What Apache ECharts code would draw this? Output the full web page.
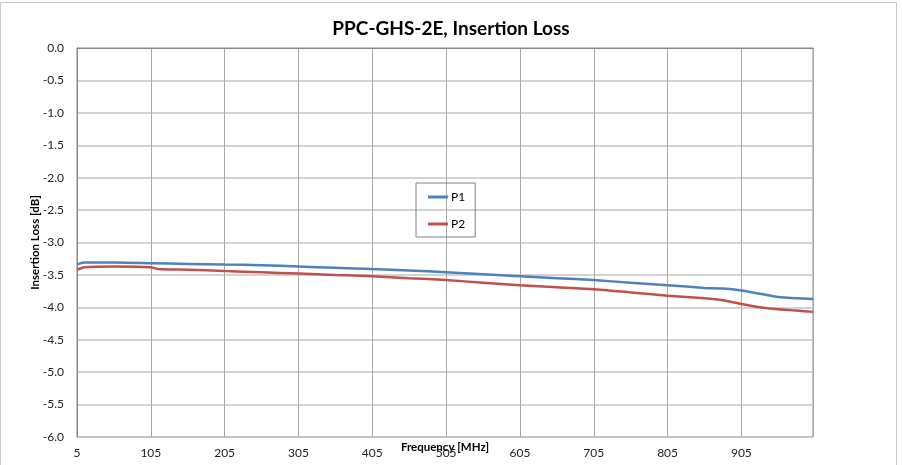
<!DOCTYPE html>
<html>
<head>
<meta charset="utf-8">
<title>PPC-GHS-2E, Insertion Loss</title>
<script src="https://cdn.jsdelivr.net/npm/echarts@6/dist/echarts.min.js"></script>
<style>
html,body{margin:0;padding:0;background:#fff;}
#container{width:902px;height:465px;}
</style>
</head>
<body>
<div id="container"></div>
<script>
    // values
    var freqP1 = [5, 15, 55, 105, 155, 205, 255, 305, 355, 405, 455, 505, 555, 605, 655, 705, 755, 805, 855, 880, 905, 930, 955, 980, 1002];
    var lossP1 = [-3.34, -3.31, -3.31, -3.32, -3.33, -3.34, -3.35, -3.37, -3.39, -3.41, -3.43, -3.46, -3.49, -3.52, -3.55, -3.58, -3.62, -3.66, -3.70, -3.71, -3.74, -3.79, -3.84, -3.86, -3.87];
    var freqP2 = [5, 15, 55, 105, 115, 155, 205, 255, 305, 355, 405, 455, 505, 555, 605, 655, 705, 755, 805, 855, 880, 905, 930, 955, 980, 1002];
    var lossP2 = [-3.42, -3.38, -3.37, -3.38, -3.41, -3.42, -3.44, -3.46, -3.48, -3.50, -3.52, -3.55, -3.58, -3.62, -3.66, -3.69, -3.72, -3.77, -3.82, -3.86, -3.89, -3.95, -4.00, -4.03, -4.05, -4.07];
    var seriesNames = ['P1', 'P2'];

    function pairs(xs, ys) {
        var out = [];
        for (var i = 0; i < xs.length; i++) out.push([xs[i], ys[i]]);
        return out;
    }

    var font = 'Lato, "Open Sans", sans-serif';
    var option = {
        animation: false,
        textStyle: {fontFamily: font},
        title: {
            text: 'PPC-GHS-2E, Insertion Loss',
            left: 'center',
            top: 14,
            textStyle: {fontSize: 19, fontWeight: 'bold', color: '#000', fontFamily: font}
        },
        graphic: [{
            type: 'rect',
            shape: {x: 0.5, y: 2.5, width: 896, height: 470},
            style: {fill: 'none', stroke: '#c8c8c8', lineWidth: 1},
            silent: true
        }],
        grid: {
            left: 77, right: 89, top: 48, bottom: 28,
            outerBoundsMode: 'none',
            containLabel: false,
            show: true, borderColor: '#888', borderWidth: 1
        },
        legend: {
            data: seriesNames,
            orient: 'vertical',
            left: 416,
            top: 183,
            width: 60,
            padding: [7, 10, 6, 12],
            itemGap: 13,
            itemWidth: 20,
            itemHeight: 3,
            icon: 'rect',
            borderColor: '#808080',
            borderWidth: 1,
            textStyle: {fontSize: 12, color: '#000', lineHeight: 14, padding: [0, 0, 0, -2]}
        },
        xAxis: {
            type: 'value',
            min: 5,
            max: 1002,
            interval: 100,
            name: 'Frequency [MHz]',
            nameLocation: 'middle',
            nameGap: 4,
            nameMoveOverlap: false,
            nameTextStyle: {fontSize: 11.5, fontWeight: 'bold', color: '#000'},
            axisLine: {show: true, lineStyle: {color: '#888'}},
            axisTick: {show: false},
            axisLabel: {showMaxLabel: false, fontSize: 12, color: '#222', margin: 10},
            splitLine: {show: true, lineStyle: {color: '#a8a8a8', width: 1}}
        },
        yAxis: {
            type: 'value',
            min: -6,
            max: 0,
            interval: 0.5,
            name: 'Insertion Loss [dB]',
            nameLocation: 'middle',
            nameGap: 36,
            nameMoveOverlap: false,
            nameTextStyle: {fontSize: 11.5, fontWeight: 'bold', color: '#000'},
            axisLine: {show: true, lineStyle: {color: '#888'}},
            axisTick: {show: false},
            axisLabel: {
                fontSize: 12, color: '#222', margin: 13,
                formatter: function (v) { return v.toFixed(1); }
            },
            splitLine: {show: true, lineStyle: {color: '#c4c4c4', width: 1.5}}
        },
        series: [
            {
                name: seriesNames[0],
                type: 'line',
                showSymbol: false,
                smooth: 0.2,
                color: '#4f81bd',
                lineStyle: {width: 2.5, color: '#4f81bd'},
                data: pairs(freqP1, lossP1)
            },
            {
                name: seriesNames[1],
                type: 'line',
                showSymbol: false,
                smooth: 0.2,
                color: '#c0504d',
                lineStyle: {width: 2.5, color: '#c0504d'},
                data: pairs(freqP2, lossP2)
            }
        ]
    };
    var myChart = echarts.init(document.getElementById('container'));
    myChart.setOption(option, true);
</script>
</body>
</html>
